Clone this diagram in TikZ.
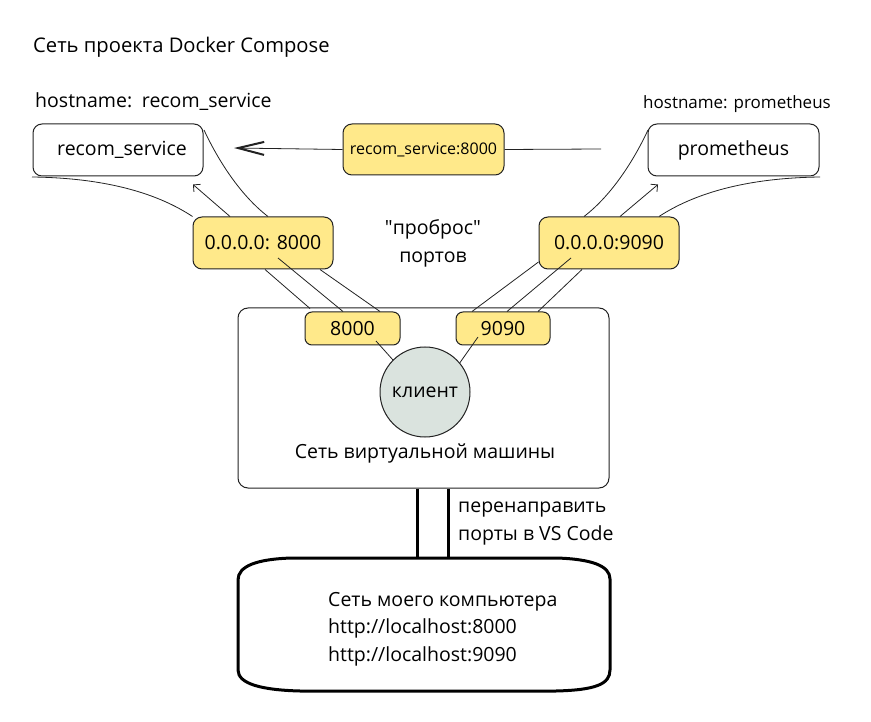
\documentclass[tikz,border=0pt]{standalone}
\usepackage{fontspec}
\setmainfont{Open Sans}
\newfontfamily\qfont{Open Sans}
\usetikzlibrary{arrows.meta,backgrounds,calc}
\definecolor{yfill}{HTML}{FFE98A}
\definecolor{cfill}{HTML}{DAE3DE}
\definecolor{edge}{HTML}{222222}
\begin{document}
\begin{tikzpicture}[x=1pt,y=-1pt,
  font=\fontsize{19.5}{23}\selectfont,
  wbox/.style={draw=edge, line width=1pt, rounded corners=9pt, fill=white, minimum width=#1, minimum height=52pt, inner sep=0pt},
  ybox/.style={draw=edge, line width=1pt, rounded corners=9pt, fill=yfill, minimum width=#1, minimum height=52pt, inner sep=0pt},
  pbox/.style={draw=edge, line width=1pt, rounded corners=7pt, fill=yfill, minimum width=#1, minimum height=33pt, inner sep=0pt},
  ln/.style={line width=0.8pt, draw=edge},
  sarrow/.style={ln, -{Straight Barb[length=5pt,width=10pt]}},
  bigarrow/.style={ln, -{Straight Barb[length=26pt,width=13pt,line width=2pt]}},
  thickl/.style={line width=3pt, line cap=butt}
]
\useasboundingbox (0,0) rectangle (871,722);

% texts
\node[anchor=west, inner sep=0pt, font=\fontsize{20.2}{24}\selectfont] (title) at (33,47) {Сеть проекта Docker Compose};
\node[anchor=west, inner sep=0pt] (hostL) at (35,102) {hostname:\hspace{0.5em}recom\_service};
\node[anchor=east, inner sep=0pt, font=\fontsize{17}{20}\selectfont] (hostR) at (831,104) {hostname: prometheus};

% boxes
\node[wbox=170pt] (recom) at (118,150) {\hspace{8pt}recom\_service};
\node[wbox=171pt] (prom) at (733.5,150) {prometheus};
\node[ybox=161pt, minimum height=51pt, font=\fontsize{16}{19}\selectfont] (mid) at (423.5,149.5) {recom\_service:8000};
\node[ybox=140pt] (yL) at (263,243) {0.0.0.0: 8000};
\node[ybox=140pt] (yR) at (609,243) {0.0.0.0:9090};

\node[align=center, font=\fontsize{19.5}{28}\selectfont] (probros) at (433,243) {{\qfont"}проброс{\qfont"}\\портов};

% VM network
\node[draw=edge, line width=1pt, rounded corners=10pt, fill=white, minimum width=371pt, minimum height=180pt, inner sep=0pt] (vm) at (423.5,398) {};
\node[pbox=95pt] (p8000) at (352.5,328.5) {8000};
\node[pbox=94pt] (p9090) at (503,328.5) {9090};
\node[circle, draw=edge, line width=1pt, fill=cfill, minimum size=90pt, inner sep=0pt] (client) at (425,392) {клиент};
\node[inner sep=0pt] (vmlabel) at (425,453) {Сеть виртуальной машины};

% background curves
\begin{scope}[on background layer]
  \draw[ln] (32,177) .. controls (110,178) and (160,195) .. (yL.north west);
  \draw[ln] (204,130) .. controls (218,160) and (240,195) .. ([xshift=5pt]yL.north);
  \draw[ln] (648,130) .. controls (634,160) and (612,195) .. ([xshift=-25pt]yR.north);
  \draw[ln] (820,177) .. controls (742,178) and (692,195) .. ([xshift=50pt]yR.north);
  \coordinate (midR) at (601,149);
  \coordinate (midL) at (234,148);
  \draw[ln] (mid.east) -- (midR);
  \draw[bigarrow] (mid.west) -- (midL);
\end{scope}

% small arrows
\draw[sarrow] ([xshift=-33pt]yL.north) -- ++(-37,-32);
\draw[sarrow] ([xshift=11pt]yR.north) -- ++(38,-32);

% port forwarding lines (left)
\draw[ln] ([xshift=2pt]yL.south) -- (310,308.5);
\draw[ln] (278,258) -- ([xshift=-9.5pt]p8000.north);
\draw[ln] ([xshift=57pt]yL.south) -- ([xshift=27.5pt]p8000.north);
% right
\draw[ln] (yR.west |- 0,262) -- ([xshift=-31pt]p9090.north);
\draw[ln] (571,258) -- ([xshift=4pt]p9090.north);
\draw[ln] ([xshift=-27pt]yR.south) -- ([xshift=35pt]p9090.north);
% to client
\draw[ln] (376,341) -- (client.135);
\draw[ln] (478,337) -- (client.40);

% my computer network
\draw[thickl] (238,590) -- (238,670) .. controls (238,684) and (262,690) .. (300,691) -- (556,691) .. controls (596,690) and (610,684) .. (610,670) -- (610,579) .. controls (610,566) and (592,559) .. (556,558) -- (292,558) .. controls (257,559) and (238,566) .. (238,580) -- cycle;
\coordinate (pctop) at (432,558);
\draw[thickl] ([xshift=-6.5pt]vm.south) -- ([xshift=-6.5pt]vm.south |- pctop);
\draw[thickl] ([xshift=24.5pt]vm.south) -- ([xshift=24.5pt]vm.south |- pctop);
\node[anchor=west, align=left, inner sep=0pt, font=\fontsize{19.5}{28}\selectfont] (redirect) at (458,524) {перенаправить\\порты в VS Code};
\node[anchor=west, align=left, inner sep=0pt, font=\fontsize{19.5}{27.5}\selectfont] (pc) at (328,629) {Сеть моего компьютера\\http://localhost:8000\\http://localhost:9090};
\end{tikzpicture}
\end{document}
